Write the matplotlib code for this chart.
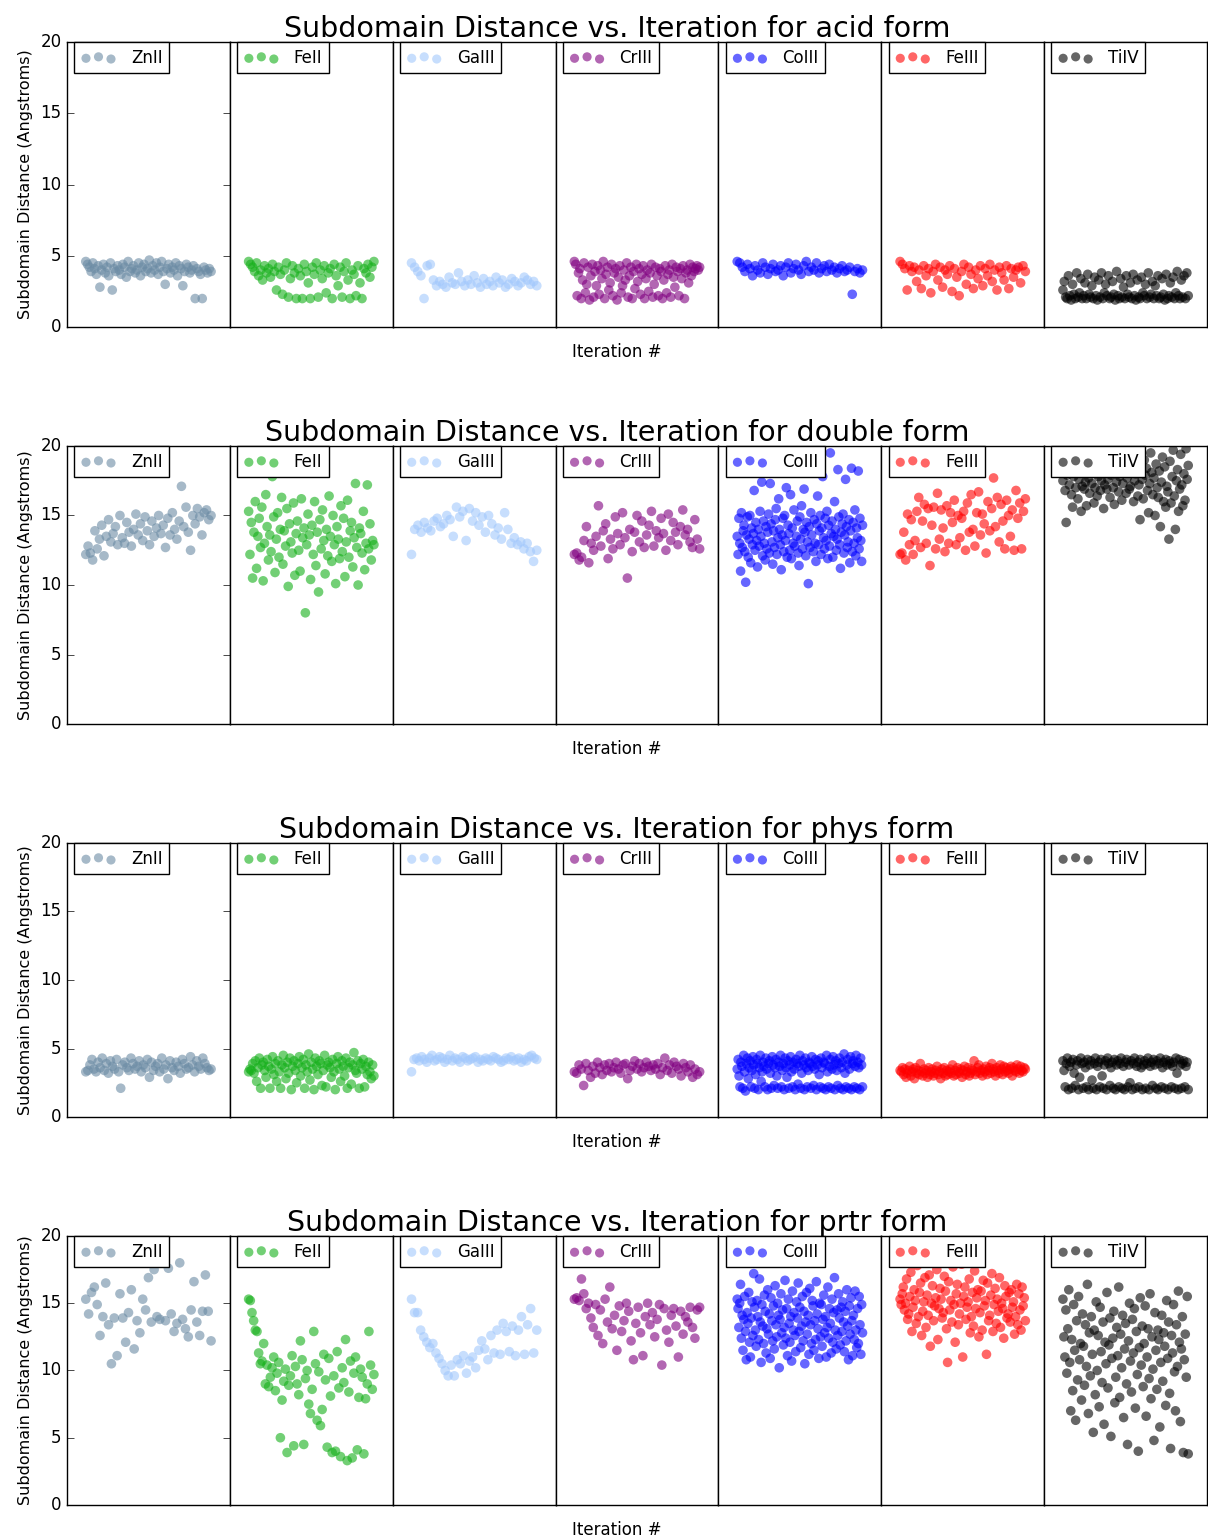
import numpy as np
import matplotlib
matplotlib.use('Agg')
import matplotlib.pyplot as plt

FORMS = ['acid', 'double', 'phys', 'prtr']
IONS = ['ZnII', 'FeII', 'GaIII', 'CrIII', 'CoIII', 'FeIII', 'TiIV']
COLORS = ['#6b8ba4', '#15b01a', '#a2c8fc', '#800080', '#0000ff', '#ff0000', '#000000']

# subdomain distances (Angstroms) per iteration
acid_znii = [4.6,4.4,4.2,3.9,4.5,4.1,3.7,4.3,2.8,4.0,4.4,3.8,4.2,3.6,4.5,2.6,4.1,3.9,4.3,4.0,3.7,4.4,4.2,3.5,4.6,3.9,4.1,4.3,3.8,4.0,
             4.5,3.6,4.2,4.4,3.9,4.1,4.7,3.8,4.3,4.0,4.5,3.7,4.2,4.6,3.9,3.0,4.1,4.4,3.8,4.2,4.0,4.5,3.6,4.3,4.1,2.9,3.9,4.4,4.2,3.8,
             4.0,4.3,2.0,4.1,3.9,3.7,2.0,4.2,4.0,3.8,4.1,3.9]
acid_feii = [4.6,4.4,4.2,3.9,4.5,3.6,4.0,3.3,4.3,3.8,4.1,3.5,4.4,3.9,2.6,4.2,3.7,2.3,4.0,4.5,2.1,3.4,4.3,3.8,2.0,4.1,3.6,2.0,4.4,3.9,
             3.1,2.0,4.2,3.7,4.5,2.1,4.0,3.4,4.3,2.4,3.8,4.1,2.0,4.4,3.6,2.9,4.2,2.1,3.9,4.5,3.3,2.0,4.0,3.7,2.2,4.3,3.1,2.0,4.1,3.8,
             4.4,3.5,4.2,4.6]
acid_gaiii = [4.5,4.2,3.9,3.6,2.0,4.3,4.4,3.3,2.9,3.2,3.0,2.8,3.5,3.1,3.0,3.8,3.2,2.9,3.3,3.0,3.6,3.1,2.8,3.4,3.0,3.2,2.9,3.5,3.1,3.3,
              2.8,3.0,3.4,3.2,2.9,3.1,3.5,3.3,3.0,3.2,2.9]
acid_criii = [4.6,4.4,2.2,3.8,4.1,2.0,3.3,4.5,2.4,3.0,4.2,1.9,3.6,4.4,2.1,3.9,2.9,4.3,2.3,4.0,3.4,4.6,2.0,3.7,4.2,2.6,3.1,4.4,2.2,3.8,
              4.1,1.9,3.5,4.3,2.4,2.9,4.0,3.3,4.5,2.1,3.6,4.2,2.0,3.9,2.7,4.4,3.2,4.1,2.3,3.7,4.3,2.0,3.4,4.0,2.5,3.8,4.4,2.1,3.0,4.2,
              3.6,2.2,4.1,3.9,2.0,3.3,4.3,2.4,3.7,4.0,2.1,4.4,3.5,2.8,4.2,3.9,2.2,4.1,3.4,4.3,2.0,3.8,4.0,3.1,4.4,3.6,4.2,3.9,4.1,4.3,
              4.0,4.2]
acid_coiii = [4.6,4.5,4.2,3.9,4.4,4.1,3.6,4.3,4.0,3.8,4.5,4.2,3.7,4.1,4.4,3.9,4.0,4.3,3.6,4.2,4.5,3.8,4.1,4.4,4.0,3.7,4.3,4.6,3.9,4.2,
              4.0,4.5,3.8,4.1,4.3,3.9,4.4,4.0,4.2,3.8,4.1,4.3,3.9,4.0,4.2,2.3,3.9,4.1,3.8,4.0]
acid_feiii = [4.6,4.4,4.1,2.6,4.3,3.9,4.2,3.2,4.0,2.7,4.3,3.6,4.1,2.4,3.9,4.4,3.3,4.2,2.8,4.0,3.7,4.3,2.5,4.1,3.5,2.2,3.9,4.4,3.0,4.2,
              3.7,2.7,4.0,3.4,4.3,2.9,4.1,3.6,4.4,3.2,4.0,2.6,4.2,3.8,3.3,4.3,2.7,4.1,3.5,4.0,4.2,3.1,4.3,3.9]
acid_tiiv = [2.6,3.2,2.1,2.0,3.6,2.2,1.9,3.0,2.3,2.0,3.8,2.1,2.4,3.4,2.0,2.2,3.1,2.0,3.7,2.3,2.1,2.9,2.0,3.5,2.2,1.9,3.3,2.1,3.8,2.0,
             2.4,3.0,2.2,3.6,2.0,2.1,3.2,2.3,1.9,3.9,2.2,2.0,3.4,2.1,2.8,2.0,3.6,2.3,2.1,3.1,2.0,3.7,2.2,1.9,3.3,2.1,2.0,3.5,2.4,2.2,
             3.0,2.0,3.8,2.1,2.3,3.2,2.0,2.9,2.2,3.6,2.0,2.1,3.4,2.3,1.9,3.7,2.0,2.2,3.1,2.1,3.5,2.0,2.4,3.9,2.2,2.0,3.3,2.1,3.6,2.0,
             3.8,2.2]

double_znii = [12.2,12.8,12.3,11.8,13.9,12.6,13.3,14.3,12.1,13.5,14.7,13.1,13.7,14.2,12.9,15.0,13.4,13.0,14.5,13.8,12.8,14.0,15.1,13.6,
               14.4,13.2,14.9,13.9,12.9,14.6,13.5,14.1,15.0,13.7,14.3,12.7,14.8,13.6,15.2,14.0,13.3,14.6,17.1,14.2,15.6,13.8,12.5,15.0,
               14.4,15.5,14.9,13.6,15.2,15.4,14.7,15.0]
double_feii = [15.3,12.2,14.5,10.5,13.8,16.0,11.2,13.5,14.8,12.7,15.6,10.3,13.0,16.5,14.2,11.8,13.6,12.4,17.8,14.9,10.9,13.3,15.2,12.0,
               14.0,16.3,11.5,13.9,12.8,15.5,9.9,14.4,13.1,12.3,15.9,10.7,13.7,14.6,12.5,11.0,16.2,13.4,14.1,8.0,12.9,15.1,13.6,10.4,
               14.3,12.2,16.0,11.4,13.8,9.5,14.7,12.6,15.4,13.2,10.8,14.0,12.1,16.4,13.5,11.7,15.0,12.9,10.1,14.2,13.3,11.9,15.7,12.4,
               14.8,10.6,13.1,16.1,12.0,13.9,14.5,11.3,13.4,17.3,12.7,10.0,14.1,13.7,12.3,15.3,11.1,13.0,17.2,12.6,14.4,11.8,13.2,12.9]
double_gaiii = [12.2,14.0,14.3,13.8,14.5,14.1,13.9,14.6,14.8,14.2,14.4,15.0,14.7,13.5,15.6,14.9,15.3,13.2,15.5,14.6,15.2,14.3,14.9,13.8,
                15.0,14.4,13.6,14.1,13.3,15.2,14.0,13.0,13.4,12.9,13.1,12.6,13.0,12.4,11.7,12.5]
double_criii = [12.2,12.3,11.8,12.0,13.2,14.2,11.6,13.0,12.5,13.5,15.7,12.8,13.9,14.4,11.9,13.3,12.6,14.9,13.7,12.9,15.2,13.4,10.5,14.0,
                12.4,13.8,15.0,13.1,14.6,12.7,13.6,14.3,15.3,12.8,13.9,13.4,14.8,13.7,12.5,15.1,13.2,14.5,13.8,12.9,14.2,15.4,13.6,14.0,
                13.1,12.7,14.7,13.3,12.6]
double_coiii = [13.5,12.2,14.8,13.0,11.0,15.2,12.7,13.9,14.3,12.4,10.2,13.6,14.9,12.0,13.3,15.0,11.6,14.1,12.9,13.7,16.8,12.5,14.5,13.2,
                11.3,14.0,12.8,15.3,13.5,17.4,12.1,14.6,13.0,11.8,14.2,12.6,13.8,15.1,12.3,17.3,14.4,13.1,11.5,13.9,12.7,14.7,15.5,12.2,
                13.4,16.2,14.0,12.9,11.1,13.6,14.8,12.4,15.0,13.2,17.0,12.0,14.3,13.7,12.5,16.5,11.9,14.1,13.0,15.4,12.8,18.1,13.5,14.6,
                12.3,11.4,14.9,13.3,15.7,12.6,14.0,16.9,13.8,12.1,14.5,13.1,10.1,14.2,12.7,15.2,13.6,18.6,12.4,14.7,13.0,11.7,14.4,16.4,
                12.9,13.9,15.0,12.2,14.1,17.8,13.4,12.6,14.8,13.2,15.3,11.9,14.3,12.8,19.5,13.7,14.6,12.0,13.5,16.0,14.0,12.5,13.3,18.3,
                14.9,12.9,11.2,13.8,14.4,15.1,12.3,13.6,17.6,14.2,12.7,13.1,14.7,11.6,13.9,18.4,12.4,14.5,13.0,15.4,12.1,14.1,13.4,18.2,
                12.6,14.8,13.2,11.7,14.3]
double_feiii = [12.2,12.3,13.8,11.8,15.1,12.9,14.7,12.2,13.2,15.3,16.3,12.7,14.6,15.8,13.0,15.5,11.4,14.3,15.6,12.6,16.6,13.3,15.4,14.1,
                12.4,15.7,13.0,15.2,14.5,16.1,12.9,15.0,13.4,14.8,15.3,12.5,15.9,13.8,16.5,14.0,12.8,15.2,16.7,13.6,15.1,14.4,12.3,16.0,
                13.9,15.5,17.7,14.2,16.3,13.1,15.8,14.6,12.6,16.1,15.0,13.5,15.4,12.5,16.8,14.8,15.9,12.6,15.3,16.2]
double_tiiv = [17.5,18.2,16.8,14.5,17.9,19.0,17.2,18.5,16.5,15.6,17.8,18.8,17.0,19.5,16.2,17.6,18.3,15.3,17.1,18.9,16.9,17.4,15.7,18.1,
               17.7,16.6,19.2,17.3,18.6,15.9,17.0,18.0,16.4,17.8,19.7,16.8,17.5,18.4,15.5,17.2,18.7,16.9,17.6,19.1,16.3,17.9,18.2,17.0,
               15.8,18.5,17.4,19.4,16.7,17.8,18.1,16.1,17.3,18.9,19.8,16.6,17.7,18.3,16.9,17.1,19.3,18.6,16.0,17.5,18.0,19.6,16.4,17.2,
               14.7,18.8,17.6,16.2,19.0,17.9,18.4,16.8,15.2,17.3,19.5,18.1,16.5,17.7,15.0,18.7,17.0,16.3,18.2,14.2,17.4,19.2,16.0,18.5,
               15.6,17.1,16.7,13.3,18.9,15.9,17.8,19.7,16.4,14.0,17.5,18.3,15.3,16.9,19.4,17.2,15.7,18.0,16.1,19.8,17.6,18.6]

phys_znii = [3.3,3.4,3.8,4.2,3.5,3.3,4.0,3.6,4.3,3.4,3.9,3.2,4.1,3.7,3.5,4.2,3.3,2.1,3.8,4.0,3.6,3.4,4.3,3.9,3.5,3.7,4.1,3.3,3.8,3.6,
             4.2,2.9,4.0,3.4,3.7,3.9,3.3,4.3,3.5,3.8,2.8,4.1,3.6,3.4,4.0,3.7,3.2,4.2,3.9,3.5,3.6,4.4,3.8,3.3,4.1,3.7,3.5,4.3,3.9,3.6,
             3.4,3.5]
phys_feii = [3.3,3.5,3.4,3.9,3.2,4.1,2.6,3.6,4.3,2.1,3.8,4.0,3.4,2.9,4.2,3.7,2.1,3.5,4.4,3.1,3.9,2.6,4.1,3.3,2.1,3.8,4.5,3.6,2.8,4.0,
             3.2,4.3,2.0,3.7,4.1,3.4,2.5,3.9,4.4,3.0,3.6,4.2,2.1,3.8,3.3,4.6,2.7,4.0,3.5,2.0,4.3,3.7,3.1,4.1,3.9,2.3,3.4,4.5,2.2,3.8,
             4.0,3.6,2.9,4.2,3.3,2.0,3.9,4.4,3.5,2.6,4.1,3.7,3.0,4.3,2.1,3.6,4.0,2.4,3.8,4.7,3.4,3.2,4.1,2.1,3.9,3.5,4.2,2.2,3.7,3.1,
             4.0,3.3,2.8,3.8,3.0]
phys_gaiii = [3.3,4.2,4.3,4.1,4.4,4.2,4.0,4.3,4.5,4.1,4.2,4.4,4.3,4.0,4.2,4.5,4.1,4.3,4.2,4.0,4.4,4.3,4.1,4.2,4.3,4.4,4.0,4.2,4.1,4.3,
              4.2,4.1,4.4,4.3,4.2,4.0,4.1,4.3,4.2,4.4,4.1,4.2,4.3,4.0,4.2,4.1,4.4,4.5,4.3,4.2]
phys_criii = [3.3,3.2,3.8,3.5,2.3,3.9,3.4,2.9,3.7,3.2,4.0,3.6,3.1,3.8,3.4,3.9,3.3,3.6,4.0,3.5,3.2,3.8,3.9,2.8,3.4,3.7,4.1,3.5,3.9,3.3,
              3.6,4.0,3.7,3.4,3.8,3.5,3.9,3.1,3.6,4.3,3.4,3.8,3.2,4.0,3.7,3.5,3.0,3.9,3.6,3.3,3.8,2.9,3.5,3.1,3.3]
phys_coiii = [3.5,4.2,3.0,2.2,4.0,3.7,2.1,4.5,3.3,1.9,3.9,4.3,2.8,3.6,4.1,2.2,3.4,4.4,3.8,2.1,3.1,4.2,3.9,2.0,3.6,4.5,2.6,3.3,4.0,3.7,
              2.2,4.3,3.5,2.0,3.9,4.1,3.2,2.1,4.4,3.8,2.3,3.6,4.2,3.0,2.1,4.0,3.7,4.5,2.2,3.4,3.9,2.0,4.3,3.6,2.9,4.1,2.1,3.8,4.4,3.3,
              2.2,4.0,3.5,2.0,4.2,3.9,2.4,3.7,4.5,2.1,3.2,4.1,3.8,2.0,4.3,3.6,2.2,3.4,4.0,3.9,2.1,4.4,3.7,2.3,3.5,4.2,2.0,3.8,4.1,3.1,
              2.2,4.3,3.6,2.1,4.0,3.9,2.0,4.5,3.3,2.2,3.7,4.2,2.1,3.5,4.4,3.8,2.0,4.1,3.4,2.3,3.9,4.3,2.1,3.6,4.0,2.0,4.6,3.2,2.2,3.8,
              4.2,2.1,3.5,4.4,2.0,3.9,4.1,2.2,3.7,4.5,2.1,4.0,3.6,2.0,4.3,3.8,2.2]
phys_feiii = [3.4,3.3,3.6,3.1,3.5,2.9,3.2,3.4,3.7,3.0,3.3,3.5,2.8,3.6,3.2,3.4,3.1,3.9,3.3,3.0,3.5,3.2,3.4,2.9,3.6,3.1,3.3,3.5,3.0,3.2,
              3.4,3.7,3.1,3.3,2.8,3.5,3.2,3.6,3.0,3.4,3.1,3.3,3.5,3.2,3.8,3.0,3.4,3.1,3.6,3.3,3.2,3.5,2.9,3.4,3.7,3.1,3.3,3.6,3.0,3.2,
              3.5,3.4,4.1,3.1,3.3,3.6,3.8,3.2,3.4,3.0,3.5,3.3,3.7,3.1,3.4,3.6,3.2,3.9,3.5,3.3,3.0,3.6,3.4,3.2,3.8,3.5,3.1,3.7,3.3,3.6,
              3.4,3.2,3.5,3.7,3.0,3.6,3.4,3.3,3.8,3.5,3.2,3.7,3.4,3.3,3.6,3.5]
phys_tiiv = [4.1,3.4,2.2,3.9,4.3,2.0,3.7,4.0,2.1,4.2,3.2,2.3,3.8,4.1,2.0,2.9,4.3,3.9,2.1,4.0,3.6,2.2,4.2,2.0,3.8,4.1,2.7,2.1,3.9,4.3,
             2.0,3.7,4.0,2.2,4.2,3.0,2.1,3.8,4.1,2.0,4.3,3.9,2.3,3.6,4.0,2.1,4.2,2.0,3.8,4.1,2.2,3.9,4.3,2.1,3.7,2.0,4.0,4.2,2.2,3.8,
             2.5,4.1,2.0,3.9,4.3,2.1,3.7,4.0,2.2,4.2,3.6,2.0,3.8,4.1,2.1,3.9,4.3,2.0,3.7,4.0,2.3,4.2,3.8,2.1,4.1,2.0,3.9,4.3,2.2,3.6,
             4.0,2.1,4.2,3.8,2.0,4.1,3.9,2.2,3.7,4.0,2.1,4.3,3.2,2.0,4.2,3.8,2.1,3.9,4.1,2.2,3.7,4.0,2.0]

prtr_znii = [15.3,14.2,15.8,16.2,14.9,12.6,14.0,16.5,13.4,10.5,13.9,11.1,15.7,13.9,12.1,14.3,16.0,11.6,13.7,12.8,15.3,14.5,16.9,13.6,
             17.5,14.0,13.8,18.4,13.7,17.6,14.2,12.9,13.5,18.0,13.8,13.1,12.5,14.5,16.6,13.6,12.6,14.4,17.1,14.4,12.2]
prtr_feii = [15.3,15.2,14.3,13.7,13.0,12.9,11.3,10.5,10.7,12.0,9.0,10.4,8.8,9.5,10.2,11.0,8.5,9.8,10.6,5.0,7.8,9.2,10.1,3.9,8.9,9.6,
             11.1,4.4,10.3,9.0,8.2,12.2,10.8,4.5,9.4,10.0,7.5,6.8,8.6,12.9,10.5,6.3,9.9,5.9,7.1,11.2,9.3,4.3,10.9,8.1,3.9,9.6,4.0,11.4,
             8.7,3.6,10.2,9.1,12.3,3.3,8.4,10.7,3.5,9.8,11.0,4.1,8.0,10.1,9.5,3.8,7.9,9.0,12.9,10.4,8.6,9.7]
prtr_gaiii = [15.3,14.3,14.3,13.0,12.5,12.1,11.7,12.0,11.3,10.9,10.5,10.0,9.6,10.4,9.6,10.8,10.5,11.1,9.8,10.7,11.0,10.2,11.5,12.2,
              11.6,10.8,12.6,11.3,13.0,11.2,13.5,12.9,11.4,13.3,11.1,13.0,14.0,11.2,13.4,14.6,11.3,13.0]
prtr_criii = [15.3,15.4,15.2,16.8,15.7,14.6,15.0,13.9,13.2,14.9,12.6,14.5,12.0,15.3,13.6,16.2,13.1,14.1,11.5,14.8,12.9,13.7,15.0,14.4,
              12.2,10.8,13.5,14.7,12.8,11.1,14.0,15.0,13.4,14.3,12.5,13.8,14.9,10.4,14.6,13.0,12.1,14.1,14.6,13.3,11.0,14.4,12.7,14.0,
              13.6,14.7,13.2,12.4,14.5,14.7]
prtr_coiii = [15.3,14.6,13.2,15.0,16.4,12.4,14.1,11.5,13.8,15.5,12.9,10.8,14.3,13.5,15.8,12.1,11.0,13.9,15.1,12.6,17.2,14.7,13.0,11.8,
              15.2,14.0,12.3,16.8,13.6,10.6,14.9,13.3,12.0,15.6,14.4,11.3,13.1,16.0,12.7,14.2,10.9,15.4,13.7,12.2,14.8,11.6,16.3,13.4,
              12.5,15.0,14.1,10.2,13.8,15.7,12.8,14.5,11.9,13.2,16.7,12.4,14.6,11.1,15.3,13.5,12.1,14.0,10.7,15.9,13.0,14.3,12.6,11.4,
              15.1,13.9,16.5,12.9,14.7,11.7,13.3,15.5,12.2,14.4,10.5,13.6,15.8,12.7,14.1,11.2,16.1,13.4,12.0,15.2,14.8,11.5,13.7,12.3,
              16.6,14.2,13.1,10.9,15.0,12.5,14.9,11.8,13.8,15.6,12.8,14.0,11.0,13.2,16.2,12.4,14.6,13.5,11.3,15.3,12.1,14.3,16.9,13.0,
              11.6,14.5,12.6,15.7,13.9,11.9,14.7,12.9,15.1,13.6,11.4,14.4,12.2,16.0,13.3,10.8,14.8,12.7,15.4,13.7,11.1,14.1,12.3,15.9,
              13.0,11.7,14.6,12.0,15.5,13.4,11.2,14.9,12.8]
prtr_feiii = [15.3,14.9,15.7,16.2,14.5,15.0,16.8,13.8,14.2,15.5,17.3,12.9,14.7,16.0,15.2,13.5,17.8,14.0,15.8,16.5,12.6,14.4,15.1,16.9,
              13.2,15.6,14.1,17.1,11.8,15.0,16.3,13.7,14.8,15.4,17.5,12.3,14.6,16.1,15.3,13.9,14.3,17.0,15.9,13.1,10.6,16.6,14.5,15.2,
              13.6,17.7,14.9,12.1,15.7,16.4,13.4,14.2,15.0,17.9,11.0,15.5,16.2,13.8,14.7,15.1,16.8,12.8,14.0,15.8,13.3,17.4,14.6,15.4,
              16.0,12.5,14.3,15.9,13.0,16.7,14.8,15.2,11.2,16.5,13.7,14.1,15.6,17.2,12.9,14.9,16.1,13.5,15.3,14.4,16.9,13.2,15.0,14.6,
              12.4,16.3,15.5,13.9,14.2,15.8,13.6,16.0,14.7,15.1,12.7,14.0,16.4,13.4,15.7,14.5,13.0,16.2,14.8,15.4,13.7]
prtr_tiiv = [15.3,12.5,11.0,14.5,9.8,13.1,16.0,10.6,7.0,12.3,8.5,14.9,11.5,6.3,13.7,9.3,15.5,10.8,12.0,7.8,14.2,11.8,8.9,13.4,10.3,
             16.4,6.8,12.8,9.6,14.0,11.2,5.4,13.0,8.2,15.1,10.0,12.6,7.3,14.7,11.4,9.1,13.6,6.0,12.1,10.5,15.8,8.7,11.9,13.9,5.1,
             10.9,12.4,14.4,7.6,9.5,13.2,11.1,16.2,8.0,12.7,10.2,14.1,6.5,11.6,13.5,9.0,4.5,12.2,15.0,10.7,8.4,13.8,11.3,14.6,7.2,
             12.9,9.7,4.0,11.7,15.4,10.4,13.3,8.8,12.0,14.8,6.6,11.0,13.1,9.4,15.7,7.9,12.5,10.1,4.8,14.3,11.5,8.6,13.0,12.3,5.8,
             10.6,14.1,9.2,12.8,11.8,7.4,15.2,10.9,13.6,8.3,4.2,12.6,11.3,14.9,9.9,7.0,13.4,10.3,15.9,12.1,6.2,11.6,14.0,3.9,10.8,
             12.7,9.5,15.5,3.8]

data = [
    [acid_znii, acid_feii, acid_gaiii, acid_criii, acid_coiii, acid_feiii, acid_tiiv],
    [double_znii, double_feii, double_gaiii, double_criii, double_coiii, double_feiii, double_tiiv],
    [phys_znii, phys_feii, phys_gaiii, phys_criii, phys_coiii, phys_feiii, phys_tiiv],
    [prtr_znii, prtr_feii, prtr_gaiii, prtr_criii, prtr_coiii, prtr_feiii, prtr_tiiv],
]

plt.style.use('classic')
plt.rcParams['figure.facecolor'] = 'white'
plt.rcParams['savefig.facecolor'] = 'white'

W, H = 1208, 1539
fig, axes = plt.subplots(4, 7, figsize=(W / 100, H / 100), dpi=100,
                         gridspec_kw={'height_ratios': [285, 278, 274, 269]})
fig.subplots_adjust(left=67 / W, right=1207 / W, top=1 - 42 / H, bottom=1 - 1505 / H,
                    wspace=0, hspace=0.43)

for r, form in enumerate(FORMS):
    for c, ion in enumerate(IONS):
        ax = axes[r, c]
        y = np.array(data[r][c])
        x = np.arange(len(y))
        n = len(y) - 1
        ax.scatter(x, y, s=48, c=COLORS[c], alpha=0.6, edgecolors='none', label=ion)
        ax.set_xlim(-0.15 * n, 1.15 * n)
        ax.set_ylim(0, 20)
        ax.set_xticks([])
        if c == 0:
            ax.set_yticks([0, 5, 10, 15, 20])
            ax.tick_params(axis='y', direction='in', left=True, right=True, labelsize=12, length=5)
            ax.set_ylabel('Subdomain Distance (Angstroms)', fontsize=11.5)
        else:
            ax.set_yticks([])
        leg = ax.legend(loc='upper left', bbox_to_anchor=(0.045, 1.0), borderaxespad=0,
                        scatterpoints=3, markerscale=0.95, fontsize=12, handlelength=2.1,
                        handletextpad=0.9, borderpad=0.4, fancybox=False)
        leg.get_frame().set_linewidth(1.0)

    pos = axes[r, 0].get_position()
    fig.text(617 / W, pos.y1 + 5 / H, 'Subdomain Distance vs. Iteration for %s form' % form,
             ha='center', va='baseline', fontsize=20.5)
    fig.text(617 / W, pos.y0 - 25 / H, 'Iteration #', ha='center', va='center', fontsize=12)

plt.savefig('out.png', dpi=100)
